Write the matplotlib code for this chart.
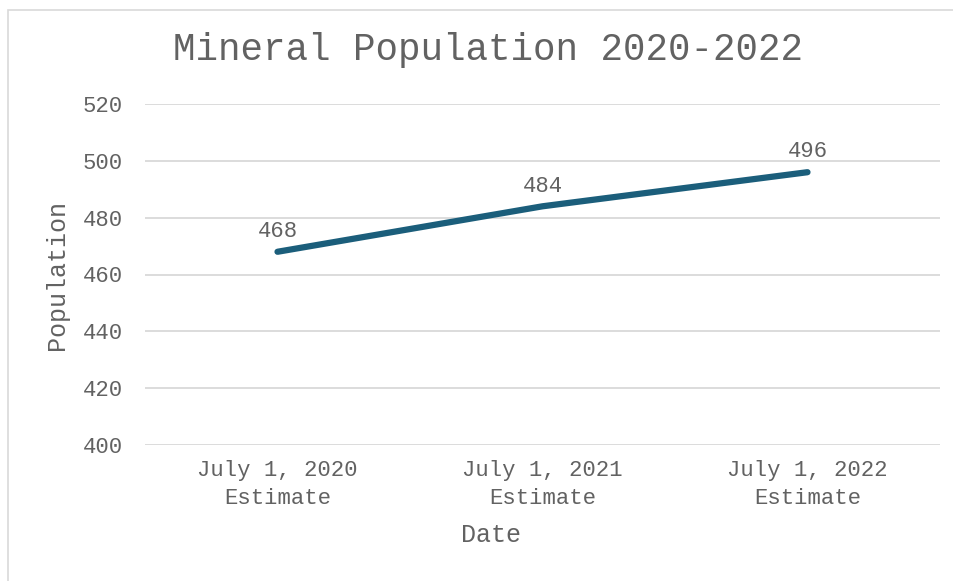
import matplotlib.pyplot as plt
from matplotlib.patches import Rectangle

# chart data
dates = ['July 1, 2020\nEstimate', 'July 1, 2021\nEstimate', 'July 1, 2022\nEstimate']
population = [468, 484, 496]
y_ticks = [400, 420, 440, 460, 480, 500, 520]

plt.rcParams['font.family'] = ['Liberation Mono', 'DejaVu Sans Mono']
text_color = '#626262'
line_color = '#1b5e7b'

fig = plt.figure(figsize=(9.54, 5.81), dpi=100)
ax = fig.add_axes([145 / 954, 1 - 445 / 581, 795 / 954, 341 / 581])

# outer chart border
fig.patches.append(Rectangle((8 / 954, -0.05), 1.1, 1 - 10 / 581 + 0.05,
                             transform=fig.transFigure, fill=False,
                             edgecolor='#d9d9d9', linewidth=1.2))

x = list(range(len(dates)))
ax.plot(x, population, color=line_color, linewidth=4.5, solid_capstyle='round')
for xi, v in zip(x, population):
    ax.annotate(str(v), (xi, v), xytext=(0, 7), textcoords='offset points',
                ha='center', va='bottom', fontsize=16, color=text_color)

ax.set_xlim(-0.5, 2.5)
ax.set_ylim(400, 520)
ax.set_yticks(y_ticks)
ax.set_xticks(x)
ax.set_xticklabels(dates, linespacing=1.45)
ax.tick_params(axis='both', length=0, labelsize=16, labelcolor=text_color)
ax.tick_params(axis='y', pad=16)
ax.tick_params(axis='x', pad=11)
ax.grid(axis='y', color='#d9d9d9', linewidth=1.3)
ax.set_axisbelow(True)
for s in ax.spines.values():
    s.set_visible(False)

ax.set_xlabel('Date', fontsize=18, color=text_color)
ax.xaxis.set_label_coords((491 - 145) / 795, -0.23)
ax.set_ylabel('Population', fontsize=18, color=text_color)
ax.yaxis.set_label_coords((69 - 145) / 795, 0.5)
fig.text(488 / 954, 1 - 50 / 581, 'Mineral Population 2020-2022', ha='center', va='center',
         fontsize=27, color=text_color)

fig.savefig('out.png', dpi=100)
